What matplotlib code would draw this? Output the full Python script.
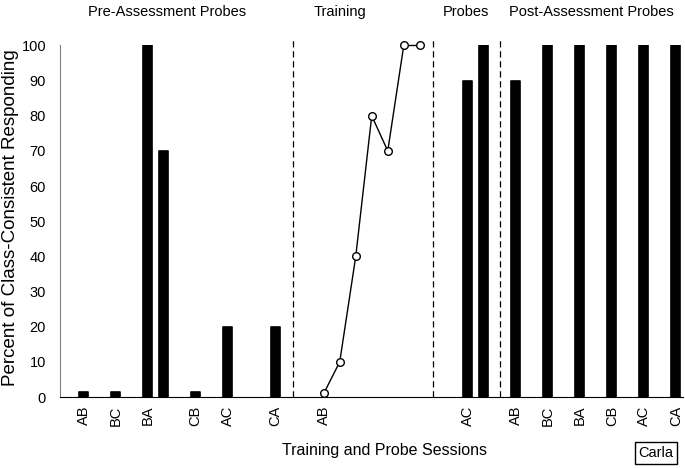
import matplotlib
matplotlib.use("Agg")
import matplotlib.pyplot as plt
import numpy as np

plt.rcParams['font.family'] = ['Liberation Sans', 'DejaVu Sans']

# session positions and values
pre_x = [0, 2, 4, 5, 7, 9, 12]
pre_y = [0, 0, 100, 70, 0, 20, 20]

train_x = [15, 16, 17, 18, 19, 20, 21]
train_y = [1, 10, 40, 80, 70, 100, 100]

probe_x = [24, 25]
probe_y = [90, 100]

post_x = [27, 29, 31, 33, 35, 37]
post_y = [90, 100, 100, 100, 100, 100]

tick_pos = [0, 2, 4, 7, 9, 12, 15, 24, 27, 29, 31, 33, 35, 37]
tick_lab = ['AB', 'BC', 'BA', 'CB', 'AC', 'CA', 'AB', 'AC',
            'AB', 'BC', 'BA', 'CB', 'AC', 'CA']

phase_lines = [13.1, 21.8, 26.0]
phase_names = ['Pre-Assessment Probes', 'Training', 'Probes', 'Post-Assessment Probes']
phase_px = [167, 340, 466, 591]

fig = plt.figure(figsize=(6.85, 4.68), dpi=100)
ax = fig.add_axes([0.0876, 0.1517, 0.9095, 0.7511])

stub = 1.5  # zero-valued bars still show a small stub
for xs, ys in [(pre_x, pre_y), (probe_x, probe_y), (post_x, post_y)]:
    ax.bar(xs, np.maximum(ys, stub), width=0.55, color='black', edgecolor='black',
           linewidth=1.2, joinstyle='round')

ax.plot(train_x, train_y, color='black', lw=1, marker='o', ms=5.5,
        mfc='white', mec='black', mew=1, clip_on=False, zorder=3)

for xv in phase_lines:
    ax.plot([xv, xv], [0, 101.5], ls=(0, (5, 3)), color='black', lw=0.9, clip_on=False)

ax.set_xlim(-1.48, 37.45)
ax.set_ylim(0, 100)
ax.set_yticks(range(0, 101, 10))
ax.set_xticks(tick_pos)
ax.set_xticklabels(tick_lab, rotation=90)
ax.tick_params(axis='both', length=0, labelsize=10.5)
ax.tick_params(axis='x', pad=6)
ax.tick_params(axis='y', pad=10)

for s in ['top', 'right']:
    ax.spines[s].set_visible(False)
ax.spines['left'].set_color('#808080')
ax.spines['bottom'].set_color('black')

fig.text(11 / 685, 1 - 218 / 468, 'Percent of Class-Consistent Responding', rotation=90,
         ha='center', va='center', fontsize=13.5)
fig.text(385 / 685, 1 - 451 / 468, 'Training and Probe Sessions', ha='center', va='center', fontsize=11.5)

for name, px in zip(phase_names, phase_px):
    fig.text(px / 685, 1 - 12 / 468, name, ha='center', va='center', fontsize=10.5)

fig.text(656 / 685, 1 - 453 / 468, 'Carla', ha='center', va='center', fontsize=10.5,
         bbox=dict(boxstyle='square,pad=0.25', fc='white', ec='black', lw=1))

fig.savefig('out.png', dpi=100)
